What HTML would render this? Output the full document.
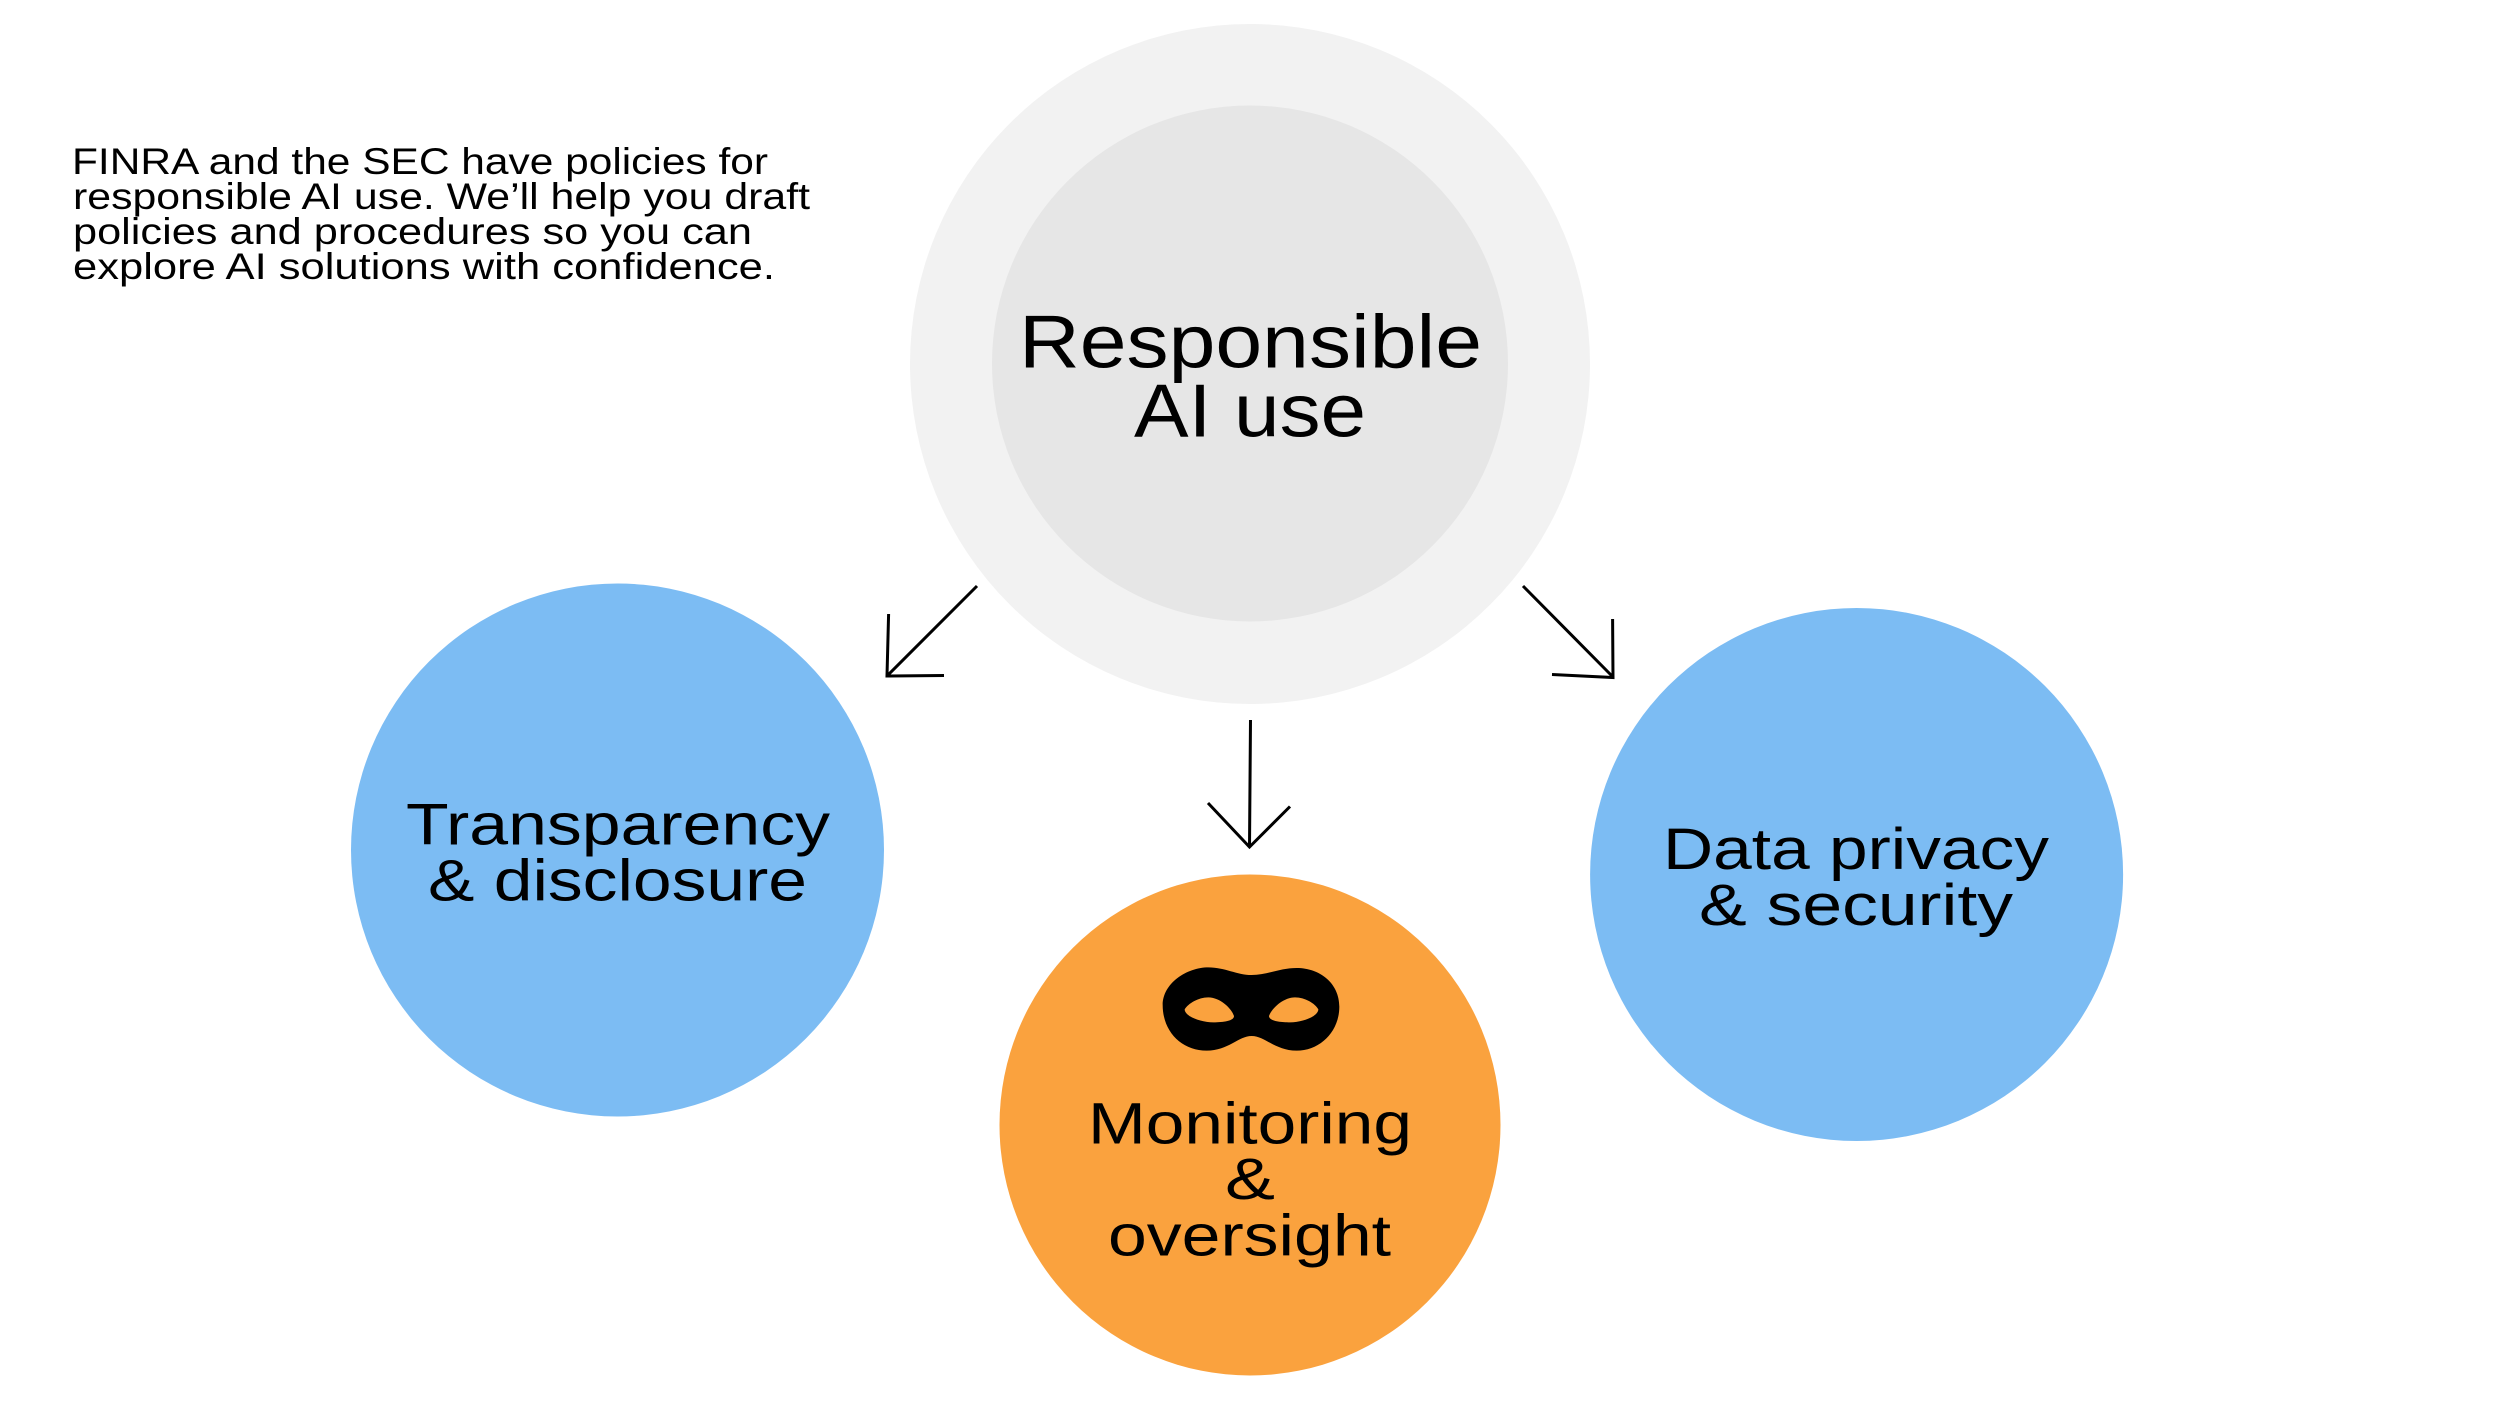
<!DOCTYPE html>
<html lang="en">
<head>
<meta charset="utf-8">
<title>Responsible AI use</title>
<style>
html,body{margin:0;padding:0;background:#fff;width:2500px;height:1406px;overflow:hidden}
svg{display:block}
text{font-family:"Liberation Sans",Arial,sans-serif;fill:#000}
.p{font-size:37px}
.h{font-size:75px}
.l{font-size:58px}
</style>
</head>
<body>
<svg width="2500" height="1406" viewBox="0 0 2500 1406" xmlns="http://www.w3.org/2000/svg">
<rect width="2500" height="1406" fill="#fff"/>
<circle cx="1250" cy="364" r="340" fill="#f2f2f2"/>
<circle cx="1250" cy="363.5" r="258" fill="#e6e6e6"/>
<circle cx="617.5" cy="850" r="266.5" fill="#7cbcf3"/>
<circle cx="1856.6" cy="874.5" r="266.5" fill="#7cbcf3"/>
<circle cx="1250" cy="1125" r="250.5" fill="#faa23e"/>

<g class="para">
<text class="p" x="72" y="174" textLength="696" lengthAdjust="spacingAndGlyphs">FINRA and the SEC have policies for</text>
<text class="p" x="73" y="209" textLength="737" lengthAdjust="spacingAndGlyphs">responsible AI use. We’ll help you draft</text>
<text class="p" x="73" y="244" textLength="679" lengthAdjust="spacingAndGlyphs">policies and procedures so you can</text>
<text class="p" x="73" y="279" textLength="702" lengthAdjust="spacingAndGlyphs">explore AI solutions with confidence.</text>
</g>

<text class="h" x="1019" y="367.5" textLength="463" lengthAdjust="spacingAndGlyphs">Responsible</text>
<text class="h" x="1134" y="436.5" textLength="232" lengthAdjust="spacingAndGlyphs">AI use</text>

<text class="l" x="406" y="844.5" textLength="424" lengthAdjust="spacingAndGlyphs">Transparency</text>
<text class="l" x="428" y="900.5" textLength="379" lengthAdjust="spacingAndGlyphs">&amp; disclosure</text>

<text class="l" x="1663" y="869" textLength="386" lengthAdjust="spacingAndGlyphs">Data privacy</text>
<text class="l" x="1699" y="925" textLength="314" lengthAdjust="spacingAndGlyphs">&amp; security</text>

<text class="l" x="1088" y="1143.5" textLength="324" lengthAdjust="spacingAndGlyphs">Monitoring</text>
<text class="l" x="1225" y="1199" textLength="50" lengthAdjust="spacingAndGlyphs">&amp;</text>
<text class="l" x="1108" y="1255.5" textLength="283" lengthAdjust="spacingAndGlyphs">oversight</text>

<path transform="translate(1100 940) scale(0.33333)" fill="#000" fill-rule="evenodd"
d="M188 195C188 130 260 82 325 82C375 82 410 105 455 105C500 105 540 84 590 84C660 84 718 130 718 200C718 275 660 332 590 332C525 332 495 288 455 288C415 288 385 332 320 332C245 332 188 275 188 195Z
M254 208C265 190 295 172 325 172C360 172 395 205 402 228C402 243 370 247 340 247C300 247 254 228 254 208Z
M655 208C645 190 615 172 585 172C550 172 515 205 507 228C507 243 540 247 570 247C610 247 655 228 655 208Z"/>

<g fill="none" stroke="#000" stroke-width="3">
<path d="M977 586L887 676M888.6 614L887 676L944 675.5"/>
<path d="M1250.5 720L1249.5 847M1208 803L1249.5 847L1290 806.5"/>
<path d="M1523 586L1613 677M1612.6 619L1613 677.5L1552 674.5"/>
</g>
</svg>
</body>
</html>
